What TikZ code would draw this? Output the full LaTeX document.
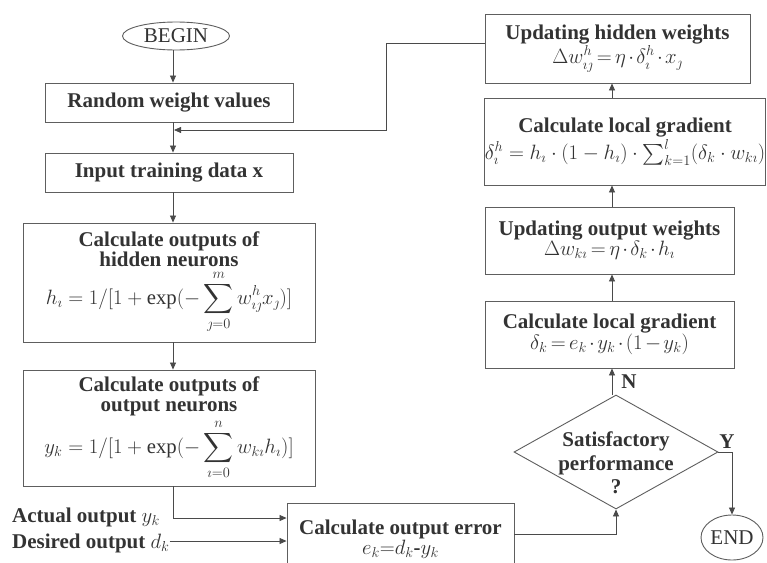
\documentclass[tikz,border=0pt]{standalone}
\usepackage{exscale}
\usepackage{fontspec}
\setmainfont{Liberation Serif}
\usetikzlibrary{shapes.geometric,arrows.meta}
\definecolor{txtc}{HTML}{333333}
\definecolor{linec}{HTML}{4A4A4A}
\definecolor{bordc}{HTML}{5E5E5E}
\newcommand{\mth}[2][20.74]{{\fontsize{#1}{#1}\selectfont\medmuskip=2mu plus 1mu\thickmuskip=3mu plus 2mu$\displaystyle #2$}}
\newcommand{\mthw}[1]{{\fontsize{20.74}{20.74}\selectfont$\displaystyle #1$}}
\begin{document}
\begin{tikzpicture}[x=1pt,y=-1pt,
  box/.style={draw=bordc, line width=0.9pt, rectangle, inner sep=0pt, align=center,
    text=txtc, font=\bfseries\fontsize{21}{20}\selectfont},
  oval/.style={draw=bordc, line width=0.9pt, ellipse, inner sep=0pt, text=txtc,
    font=\fontsize{21}{22}\selectfont},
  lbl/.style={text=txtc, inner sep=0pt, font=\bfseries\fontsize{21}{22}\selectfont},
  arr/.style={draw=linec, line width=0.8pt, -{Triangle[length=7pt,width=6pt]}},
  ln/.style={draw=linec, line width=0.8pt}]
\useasboundingbox (0,0) rectangle (767,562);
\fill[white] (0,0) rectangle (767,562);

\coordinate (colL) at (173,0);
\coordinate (colR) at (612,0);
\coordinate (ya) at (0,518);
\coordinate (yd) at (0,541);
\coordinate (yf) at (0,130);
\coordinate (ye) at (0,534);

\node[oval, minimum width=107, minimum height=28] (begin) at (176,36) {BEGIN};
\node[box, minimum width=248, minimum height=39] (rand) at (169,102.5) {Random weight values};
\node[box, minimum width=248, minimum height=39] (input) at (169,172.5) {Input training data x};
\node[box, minimum width=292, minimum height=119] (hid) at (169,282.5)
  {Calculate outputs of\\hidden neurons\\[2pt]
   \mthw{h_\imath = 1/[1+\exp(-\sum_{\jmath=0}^{m} w_{\imath\jmath}^{h} x_\jmath)]}};
\node[box, minimum width=292, minimum height=116] (outn) at (169,428)
  {Calculate outputs of\\output neurons\\[2pt]
   \mthw{y_k = 1/[1+\exp(-\sum_{\imath=0}^{n} w_{k\imath} h_\imath)]}};
\node[box, minimum width=227, minimum height=72] (err) at (400.5,539)
  {Calculate output error\\ \mth{e_k{=}d_k\mbox{-}y_k}};

\node[lbl, anchor=base west] (act) at (12,522) {Actual output {\fontsize{20.74}{24}\selectfont$y_k$}};
\node[lbl, anchor=base west] (des) at (12,548) {Desired output {\fontsize{20.74}{24}\selectfont$d_k$}};

\node[draw=bordc, line width=0.9pt, diamond, inner sep=0pt, minimum width=204, minimum height=114] (dia) at (616,452) {};
\node[lbl, align=center, font=\bfseries\fontsize{21}{23.5}\selectfont] (diat) at (616,463) {Satisfactory\\performance\\?};
\node[oval, minimum width=62, minimum height=45] (end) at (732,537.5) {END};

\node[box, minimum width=249, minimum height=67] (lg2) at (609.5,334.5)
  {Calculate local gradient\\ \mth{\delta_k = e_k\cdot y_k\cdot(1-y_k)}};
\node[box, minimum width=249, minimum height=67] (uow) at (609.5,240.5)
  {Updating output weights\\ \mth{\Delta w_{k\imath} = \eta\cdot\delta_k\cdot h_\imath}};
\node[box, minimum width=280, minimum height=87] (lg1) at (625,141.5)
  {Calculate local gradient\\[2pt] \mthw{\delta_\imath^h = h_\imath\cdot(1-h_\imath)\cdot{\textstyle\sum_{k=1}^{l}}(\delta_k\cdot w_{k\imath})}};
\node[box, minimum width=265, minimum height=69] (uhw) at (617.5,48.5)
  {Updating hidden weights\\ \mth{\Delta w_{\imath\jmath}^h = \eta\cdot\delta_\imath^h\cdot x_\jmath}};

\node[lbl] (nlab) at (629,382) {N};
\node[lbl] (ylab) at (727,442) {Y};

% connectors
\draw[arr] (begin.south -| colL) -- (rand.north -| colL);
\draw[arr] (rand.south -| colL) -- (input.north -| colL);
\draw[arr] (input.south -| colL) -- (hid.north -| colL);
\draw[arr] (hid.south -| colL) -- (outn.north -| colL);
\draw[arr] (outn.south -| colL) |- (err.west |- ya);
\draw[arr] (des.east |- yd) -- (err.west |- yd);
\draw[arr] (err.east |- ye) -| (dia.south);
\draw[arr] (dia.north -| colR) -- (lg2.south -| colR);
\draw[arr] (lg2.north -| colR) -- (uow.south -| colR);
\draw[arr] (uow.north -| colR) -- (lg1.south -| colR);
\draw[arr] (lg1.north -| colR) -- (uhw.south -| colR);
\draw[arr] (dia.east) -| (end.north);
\coordinate (fb1) at (386,43);
\draw[arr] (uhw.west |- fb1) -- (fb1) |- ([xshift=1pt]colL |- yf);
\end{tikzpicture}
\end{document}
